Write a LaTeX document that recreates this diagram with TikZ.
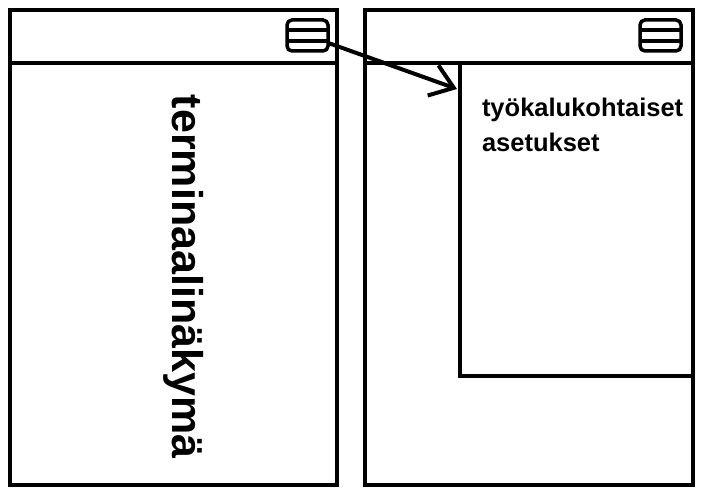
\documentclass[tikz,border=0pt]{standalone}
\usepackage{fontspec}
\setmainfont{Liberation Sans}
\usetikzlibrary{arrows.meta}

\tikzset{
  menu/.style={draw,rounded corners=5pt,minimum width=41pt,minimum height=31pt,
    inner sep=0pt,line width=3.5pt,
    path picture={
      \draw[line width=3.5pt] ([yshift=5.5pt]path picture bounding box.west)
        -- ([yshift=5.5pt]path picture bounding box.east);
      \draw[line width=3.5pt] ([yshift=-5.5pt]path picture bounding box.west)
        -- ([yshift=-5.5pt]path picture bounding box.east);
    }},
}

\begin{document}
\begin{tikzpicture}[x=1pt,y=-1pt,line width=4pt]
  \useasboundingbox (0,0) rectangle (705,495);

  \begin{scope}[every node/.style={draw,rectangle,anchor=north west,inner sep=0pt,outer sep=0pt}]
    \node[minimum width=327pt,minimum height=475pt] (left)  at (10,10)  {};
    \node[minimum width=328pt,minimum height=475pt] (right) at (365,10) {};
    \node[minimum width=233pt,minimum height=313pt] (tool)  at (460,63) {};
  \end{scope}

  % header lines
  \draw ([yshift=-53pt]left.north west) -- ([yshift=-53pt]left.north east);
  \draw ([yshift=-53pt]right.north west) -- ([yshift=-53pt]right.north east);

  \node[menu] (menuL) at (307.5,35.5) {};
  \node[menu] (menuR) at (660.5,35.5) {};

  \coordinate (tip) at (457,89);
  \draw[line cap=round,-{Straight Barb[length=22pt,width=32pt]}] (menuL) -- (tip);

  \begin{scope}[every node/.style={inner sep=0pt}]
    \node[rotate=-90,anchor=base west,font=\fontsize{43}{50}\selectfont\bfseries] (term) at (172,93) {terminaalinäkymä};
    \node[anchor=north west,align=left,font=\fontsize{25.5}{35}\selectfont\bfseries] (asetus) at (480,96) {työkalukohtaiset\\asetukset};
  \end{scope}

\end{tikzpicture}
\end{document}
